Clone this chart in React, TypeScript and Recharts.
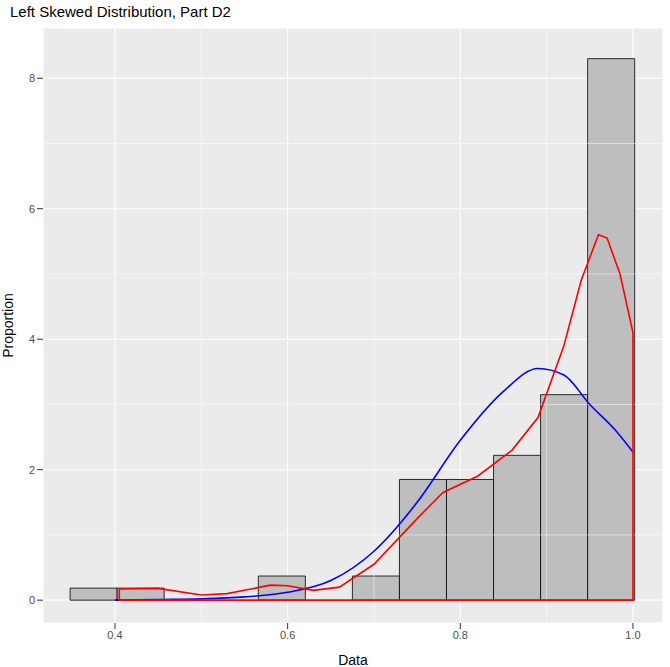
import { ComposedChart, Line, XAxis, YAxis, CartesianGrid, ReferenceArea, ReferenceLine } from 'recharts';

// histogram bins (left edge, right edge, height)
const binEdges = [0.348, 0.4025, 0.457, 0.5115, 0.566, 0.6205, 0.675, 0.7295, 0.784, 0.8385, 0.893, 0.9475, 1.002];
const binHeights = [0.185, 0.185, 0, 0, 0.37, 0, 0.37, 1.85, 1.85, 2.22, 3.15, 8.3];

// normal density (blue)
const normalX = [0.4, 0.45, 0.5, 0.55, 0.6, 0.65, 0.7, 0.75, 0.8, 0.85, 0.89, 0.92, 0.95, 0.98, 1.0];
const normalY = [0.0, 0.01, 0.02, 0.05, 0.12, 0.3, 0.75, 1.5, 2.45, 3.2, 3.55, 3.45, 3.0, 2.6, 2.27];

// kernel density (red), closed outline
const kdeX = [0.405, 0.405, 0.45, 0.5, 0.53, 0.58, 0.6, 0.63, 0.66, 0.7, 0.75, 0.78, 0.82, 0.86, 0.89, 0.92, 0.94, 0.96, 0.97, 0.985, 1.0, 1.0, 0.405];
const kdeY = [0, 0.17, 0.18, 0.08, 0.1, 0.23, 0.22, 0.15, 0.2, 0.55, 1.25, 1.65, 1.9, 2.3, 2.8, 3.9, 4.9, 5.6, 5.55, 5.0, 4.1, 0, 0];

const xTicks = [0.4, 0.6, 0.8, 1.0];
const xMinor = [0.5, 0.7, 0.9];
const yTicks = [0, 2, 4, 6, 8];
const yMinor = [1, 3, 5, 7];

const normalData = normalX.map((x, i) => ({ x, y: normalY[i] }));
const kdeData = kdeX.map((x, i) => ({ x, y: kdeY[i] }));

const tick = { fontSize: 11, fill: '#4d4d4d', fontFamily: 'Liberation Sans' };

export default function App() {
  return (
    <div style={{ position: 'absolute', left: 0, top: 0, width: 670, height: 667, background: 'white', fontFamily: 'Liberation Sans' }}>
      <div style={{ position: 'absolute', left: 10, top: 3, fontSize: 15, color: '#000' }}>
        Left Skewed Distribution, Part D2
      </div>
      <ComposedChart width={670} height={667} margin={{ top: 28, right: 7, left: 0, bottom: 0 }}>
        <CartesianGrid fill="#ebebeb" stroke="#ffffff" strokeWidth={1.1} />
        {xMinor.map((v) => (
          <ReferenceLine key={'xm' + v} x={v} stroke="#ffffff" strokeWidth={0.5} />
        ))}
        {yMinor.map((v) => (
          <ReferenceLine key={'ym' + v} y={v} stroke="#ffffff" strokeWidth={0.5} />
        ))}
        <XAxis
          type="number"
          dataKey="x"
          domain={[0.3166, 1.0348]}
          ticks={xTicks}
          tickFormatter={(v) => v.toFixed(1)}
          tick={tick}
          tickLine={{ stroke: '#333' }}
          axisLine={false}
          height={44}
          allowDataOverflow
          label={{ value: 'Data', position: 'insideBottom', offset: 2, fontSize: 14, fill: '#000' }}
        />
        <YAxis
          type="number"
          domain={[-0.35, 8.77]}
          ticks={yTicks}
          tick={tick}
          tickLine={{ stroke: '#333' }}
          axisLine={false}
          width={43}
          allowDataOverflow
          label={{ value: 'Proportion', angle: -90, position: 'insideLeft', offset: 8, fontSize: 14, fill: '#000', style: { textAnchor: 'middle' } }}
        />
        {binHeights.map((h, i) =>
          h > 0 ? (
            <ReferenceArea key={'b' + i} x1={binEdges[i]} x2={binEdges[i + 1]} y1={0} y2={h} fill="#bebebe" fillOpacity={1} stroke="#000" strokeWidth={0.8} ifOverflow="visible" />
          ) : null
        )}
        <Line data={normalData} dataKey="y" type="monotone" stroke="#0000ff" strokeWidth={1.6} dot={false} isAnimationActive={false} />
        <Line data={kdeData} dataKey="y" type="linear" stroke="#ff0000" strokeWidth={1.6} dot={false} isAnimationActive={false} />
      </ComposedChart>
    </div>
  );
}
